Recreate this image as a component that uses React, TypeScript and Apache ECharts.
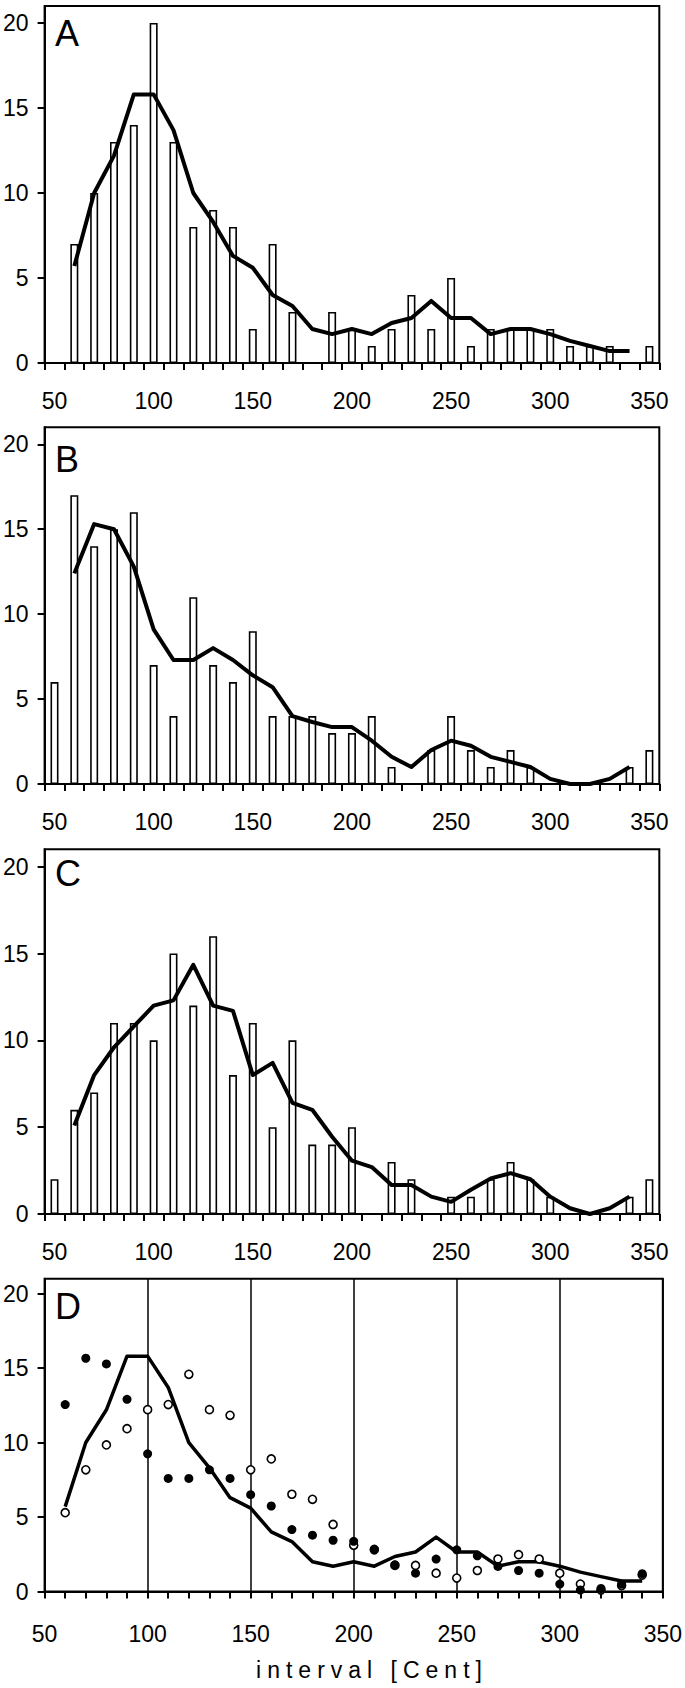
import React, { useEffect, useRef } from "react";
import * as echarts from "echarts";

// ---- data ----
const categories = ["50","60","70","80","90","100","110","120","130","140","150","160","170","180","190","200","210","220","230","240","250","260","270","280","290","300","310","320","330","340","350"];
const lineX = [60,70,80,90,100,110,120,130,140,150,160,170,180,190,200,210,220,230,240,250,260,270,280,290,300,310,320,330,340];

const barsA = [0,7,10,13,14,20,13,8,9,8,2,7,3,0,3,2,1,2,4,2,5,1,2,2,2,2,1,1,1,0,1];
const lineA = [5.7,10.0,12.2,15.8,15.8,13.7,10.0,8.3,6.3,5.6,4.0,3.35,2.0,1.7,2.0,1.7,2.35,2.65,3.65,2.65,2.65,1.7,2.0,2.0,1.7,1.3,1.0,0.7,0.7];

const barsB = [6,17,14,15,16,7,4,11,7,6,9,4,4,4,3,3,4,1,0,2,4,2,1,2,1,0,0,0,0,1,2];
const lineB = [12.4,15.3,15.0,12.8,9.1,7.3,7.3,8.0,7.3,6.4,5.7,4.0,3.65,3.35,3.35,2.55,1.6,1.0,2.0,2.55,2.25,1.6,1.3,1.0,0.3,0,0,0.3,1.0];

const barsC = [2,6,7,11,11,10,15,12,16,8,11,5,10,4,4,5,0,3,2,0,1,1,2,3,2,1,0,0,0,1,2];
const lineC = [5.1,8.0,9.6,10.8,12.0,12.3,14.35,12.0,11.7,8.0,8.7,6.4,6.0,4.45,3.07,2.7,1.67,1.67,1.0,0.7,1.4,2.05,2.35,2.0,1.0,0.33,0,0.33,1.0];

const filledD = [12.55,15.66,15.28,12.9,9.24,7.59,7.59,8.17,7.59,6.5,5.74,4.16,3.78,3.44,3.37,2.85,1.79,1.23,2.18,2.8,2.4,1.68,1.41,1.23,0.5,0.1,0.2,0.5,1.2];
const openD = [5.29,8.17,9.84,10.93,12.21,12.55,14.58,12.21,11.83,8.17,8.9,6.53,6.19,4.5,3.1,2.8,1.75,1.75,1.23,0.9,1.41,2.18,2.47,2.18,1.23,0.5,0.1,0.4,1.1];

const yTicks = [0,5,10,15,20];
const panelLabels = ["A","B","C","D"];
const TITLE = "interval [Cent]";

const FONT = "'Liberation Sans', Arial, Helvetica, sans-serif";

export default function App() {
  const ref = useRef<HTMLDivElement>(null);
  useEffect(() => {
    if (!ref.current) return;
    const chart = echarts.init(ref.current, null, { renderer: "svg" });

    const grids = [
      { left: 42.7, top: 6, width: 616.6, height: 357 },
      { left: 42.7, top: 427.3, width: 616.6, height: 356.7 },
      { left: 42.7, top: 849.3, width: 616.6, height: 364.7 },
      { left: 44.5, top: 1278.7, width: 622.2, height: 312.8 },
    ].map((g) => ({ ...g, show: true, borderColor: "#000", borderWidth: 2, backgroundColor: "transparent" }));

    const padLine = (arr: number[]) => [null, ...arr, null];

    const catAxis = (i: number) => ({
      type: "category",
      gridIndex: i,
      data: categories,
      boundaryGap: true,
      axisLine: { show: true, lineStyle: { color: "#000", width: 2 } },
      axisTick: { show: true, interval: 0, length: 7, lineStyle: { color: "#000", width: 2 } },
      axisLabel: { interval: 4, margin: 26, fontSize: 23, color: "#000", fontFamily: FONT },
      splitLine: { show: false },
    });

    const yAxisFor = (i: number) => ({
      type: "value",
      gridIndex: i,
      min: 0,
      max: 21,
      axisLine: { show: true, lineStyle: { color: "#000", width: 2 } },
      axisTick: { show: true, length: 7, customValues: yTicks, lineStyle: { color: "#000", width: 2 } },
      axisLabel: { margin: 16, fontSize: 23, color: "#000", fontFamily: FONT, customValues: yTicks },
      splitLine: { show: false },
    });

    const barSeries = (i: number, data: number[]) => ({
      type: "bar",
      xAxisIndex: i,
      yAxisIndex: i,
      data,
      barWidth: 8,
      itemStyle: { color: "#fff", borderColor: "#000", borderWidth: 1.6 },
      z: 2,
    });
    const lineSeries = (i: number, data: number[]) => ({
      type: "line",
      xAxisIndex: i,
      yAxisIndex: i,
      data: padLine(data),
      symbol: "none",
      lineStyle: { color: "#000", width: 4, join: "round" },
      z: 3,
    });

    const option: any = {
      animation: false,
      backgroundColor: "#fff",
      grid: grids,
      xAxis: [
        catAxis(0),
        catAxis(1),
        catAxis(2),
        {
          type: "value",
          gridIndex: 3,
          min: 50,
          max: 350,
          interval: 50,
          axisLine: { show: true, lineStyle: { color: "#000", width: 2 } },
          axisTick: { show: true, length: 7, lineStyle: { color: "#000", width: 2 } },
          minorTick: { show: true, splitNumber: 5, length: 7, lineStyle: { color: "#000", width: 2 } },
          axisLabel: { margin: 31, fontSize: 23, color: "#000", fontFamily: FONT },
          splitLine: { show: true, lineStyle: { color: "#000", width: 1.5 } },
        },
      ],
      yAxis: [yAxisFor(0), yAxisFor(1), yAxisFor(2), yAxisFor(3)],
      series: [
        barSeries(0, barsA),
        lineSeries(0, lineA),
        barSeries(1, barsB),
        lineSeries(1, lineB),
        barSeries(2, barsC),
        lineSeries(2, lineC),
        {
          type: "line",
          xAxisIndex: 3,
          yAxisIndex: 3,
          data: lineX.map((x, k) => [x, lineA[k]]),
          symbol: "none",
          lineStyle: { color: "#000", width: 3.5, join: "round" },
          z: 3,
        },
        {
          type: "scatter",
          xAxisIndex: 3,
          yAxisIndex: 3,
          data: lineX.map((x, k) => [x, openD[k]]),
          symbol: "circle",
          symbolSize: 8,
          itemStyle: { color: "#fff", borderColor: "#000", borderWidth: 1.6, opacity: 1 },
          z: 4,
        },
        {
          type: "scatter",
          xAxisIndex: 3,
          yAxisIndex: 3,
          data: lineX.map((x, k) => [x, filledD[k]]),
          symbol: "circle",
          symbolSize: 9,
          itemStyle: { color: "#000", opacity: 1 },
          z: 5,
        },
      ],
      graphic: [
        ...[33.7, 459, 873, 1306].map((y, k) => ({
          type: "text",
          x: 55,
          y,
          style: { text: panelLabels[k], fontSize: 36, fontFamily: FONT, fill: "#000", verticalAlign: "middle", align: "left" },
        })),
        {
          type: "text",
          x: 372,
          y: 1670,
          style: { text: TITLE, fontSize: 23, fontFamily: FONT, fill: "#000", verticalAlign: "middle", align: "center" },
        },
      ],
    };

    chart.setOption(option);

    const applySpacing = () => {
      const texts = ref.current?.querySelectorAll("text");
      texts?.forEach((t) => {
        if (t.textContent === TITLE) t.setAttribute("letter-spacing", "6px");
      });
    };
    applySpacing();
    chart.on("finished", applySpacing);

    return () => chart.dispose();
  }, []);

  return (
    <div
      ref={ref}
      style={{ position: "absolute", left: 0, top: 0, width: 685, height: 1688, background: "#fff" }}
    />
  );
}
